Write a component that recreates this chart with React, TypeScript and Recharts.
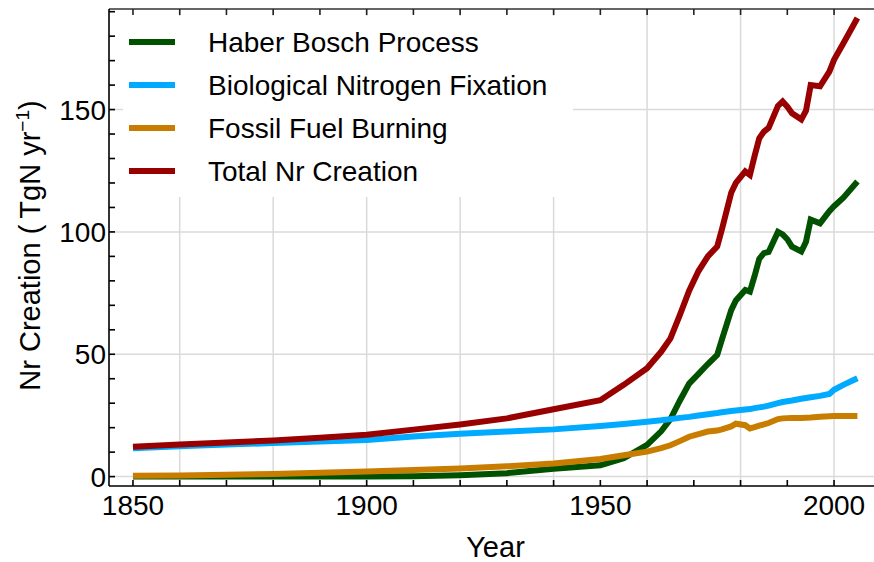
import React from 'react';
import { LineChart, Line, XAxis, YAxis, CartesianGrid, Legend } from 'recharts';

const years = [1850, 1860, 1870, 1880, 1890, 1900, 1910, 1920, 1930, 1940, 1950, 1955, 1960, 1963, 1965, 1967, 1969, 1971, 1973, 1975, 1976, 1978, 1979, 1981, 1982, 1983, 1984, 1985, 1986, 1988, 1989, 1990, 1991, 1993, 1994, 1995, 1997, 1999, 2000, 2002, 2005];
const haber = [0, 0, 0, 0, 0, 0, 0.1, 0.6, 1.4, 3.2, 4.6, 7.5, 13, 18.5, 23.5, 31, 38, 42, 46, 49.7, 56, 68, 72, 76.3, 75.6, 82, 89, 91.3, 91.8, 100, 99, 97, 94, 92, 96, 105, 103.5, 108.5, 110.5, 114, 120.6];
const biological = [11.6, 12.4, 13.1, 13.7, 14.3, 15, 16.4, 17.5, 18.4, 19.3, 20.7, 21.5, 22.4, 23, 23.5, 24, 24.4, 25, 25.5, 26, 26.3, 26.8, 27, 27.4, 27.6, 28, 28.3, 28.6, 29, 30, 30.5, 30.8, 31.1, 31.8, 32.1, 32.4, 33, 33.8, 35.5, 37.5, 40.2];
const fossil = [0.3, 0.5, 0.8, 1.1, 1.6, 2.1, 2.7, 3.3, 4.2, 5.4, 7.2, 8.7, 10.2, 11.6, 12.8, 14.5, 16.3, 17.4, 18.4, 18.8, 19.3, 20.5, 21.6, 21, 19.7, 20.2, 20.8, 21.3, 21.9, 23.5, 23.8, 23.9, 24, 24, 24.1, 24.2, 24.5, 24.7, 24.8, 24.8, 24.8];
const total = [12.2, 13.1, 13.9, 14.8, 15.9, 17.1, 19.2, 21.3, 23.8, 27.5, 31.2, 37.5, 44.3, 51, 56.5, 66, 76, 84, 90, 94, 101, 116, 120, 124.7, 123.3, 131, 138.3, 141, 142.5, 151.5, 153.3, 151.2, 148.5, 146, 149.5, 160, 159.5, 165.5, 170.3, 177.1, 187.4];

const xTicks = [1850, 1860, 1870, 1880, 1890, 1900, 1910, 1920, 1930, 1940, 1950, 1960, 1970, 1980, 1990, 2000];
const xLabelTicks = [1850, 1900, 1950, 2000];
const xGrid = [1860, 1880, 1900, 1920, 1940, 1960, 1980, 2000];
const yTicks = [0, 10, 20, 30, 40, 50, 60, 70, 80, 90, 100, 110, 120, 130, 140, 150, 160, 170, 180, 190];
const yLabelTicks = [0, 50, 100, 150];

const series = [
  { key: 'haber', name: 'Haber Bosch Process', color: '#005200' },
  { key: 'biological', name: 'Biological Nitrogen Fixation', color: '#00aaff' },
  { key: 'fossil', name: 'Fossil Fuel Burning', color: '#c87d00' },
  { key: 'total', name: 'Total Nr Creation', color: '#990000' },
];

const data = years.map((year, i) => ({
  year,
  haber: haber[i],
  biological: biological[i],
  fossil: fossil[i],
  total: total[i],
}));

const FONT = '"Liberation Sans", Arial, sans-serif';
const TL = 6;

const BottomTick = (props: any) => {
  const { x, y, payload } = props;
  const v = payload.value;
  return (
    <g>
      <rect x={x - 0.8} y={y - TL} width={1.6} height={TL} fill="#000" />
      {xLabelTicks.includes(v) && (
        <text x={x} y={y + 29} textAnchor="middle" fontFamily={FONT} fontSize={28} fill="#000">
          {v}
        </text>
      )}
    </g>
  );
};

const TopTick = (props: any) => {
  const { x, y } = props;
  return <rect x={x - 0.8} y={y} width={1.6} height={TL} fill="#222" />;
};

const LeftTick = (props: any) => {
  const { x, y, payload } = props;
  const v = payload.value;
  return (
    <g>
      <rect x={x} y={y - 0.8} width={TL} height={1.6} fill="#000" />
      {yLabelTicks.includes(v) && (
        <text x={x - 3} y={y + 10} textAnchor="end" fontFamily={FONT} fontSize={28} fill="#000">
          {v}
        </text>
      )}
    </g>
  );
};

const YLabel = (props: any) => {
  const vb = props.viewBox || { x: 0, y: 9, width: 109, height: 477 };
  const cx = 40;
  const cy = vb.y + vb.height / 2 - 2;
  return (
    <text
      x={cx}
      y={cy}
      transform={`rotate(-90 ${cx} ${cy})`}
      textAnchor="middle"
      fontFamily={FONT}
      fontSize={29}
      fill="#000"
    >
      <tspan>Nr Creation (</tspan>
      <tspan dx={6}>TgN yr</tspan>
      <tspan fontSize={19} dy={-11}>−1</tspan>
      <tspan dy={11}>)</tspan>
    </text>
  );
};

const XLabel = (props: any) => {
  const vb = props.viewBox || { x: 109, y: 486, width: 765, height: 76 };
  return (
    <text x={vb.x + vb.width / 2 + 4} y={557} textAnchor="middle" fontFamily={FONT} fontSize={29} fill="#000">
      Year
    </text>
  );
};

const LegendBox = () => (
  <div style={{ background: '#fff', width: 450, height: 181 }}>
    <svg width={450} height={181}>
      {series.map((s, i) => {
        const cy = 26 + i * 43;
        return (
          <g key={s.key}>
            <line x1={6} x2={52} y1={cy} y2={cy} stroke={s.color} strokeWidth={6} />
            <text x={85} y={cy + 10} fontFamily={FONT} fontSize={28} fill="#000">
              {s.name}
            </text>
          </g>
        );
      })}
    </svg>
  </div>
);

export default function App() {
  return (
    <div style={{ position: 'absolute', left: 0, top: 0, width: 874, height: 562, overflow: 'hidden', background: '#fff' }}>
      <LineChart width={874} height={562} data={data} margin={{ top: 0, right: 0, bottom: 0, left: 0 }}>
        <CartesianGrid
          xAxisId="bottom"
          horizontalValues={yLabelTicks}
          verticalValues={xGrid}
          stroke="#dadada"
          strokeWidth={1.5}
        />
        <XAxis
          xAxisId="bottom"
          dataKey="year"
          type="number"
          domain={[1844.87, 2008.55]}
          allowDataOverflow
          ticks={xTicks}
          interval={0}
          height={76}
          tickSize={0}
          tickMargin={0}
          tickLine={false}
          axisLine={{ stroke: '#000', strokeWidth: 1.6 }}
          tick={<BottomTick />}
          label={<XLabel />}
        />
        <XAxis
          xAxisId="top"
          orientation="top"
          dataKey="year"
          type="number"
          domain={[1844.87, 2008.55]}
          allowDataOverflow
          ticks={xTicks}
          interval={0}
          height={9}
          tickSize={0}
          tickMargin={0}
          tickLine={false}
          axisLine={{ stroke: '#333', strokeWidth: 1.6 }}
          tick={<TopTick />}
        />
        <YAxis
          type="number"
          domain={[-3.84, 191.1]}
          allowDataOverflow
          ticks={yTicks}
          interval={0}
          width={109}
          tickSize={0}
          tickMargin={0}
          tickLine={false}
          axisLine={{ stroke: '#000', strokeWidth: 1.6 }}
          tick={<LeftTick />}
          label={<YLabel />}
        />
        <Legend
          layout="vertical"
          align="center"
          verticalAlign="middle"
          content={<LegendBox />}
          wrapperStyle={{ position: 'absolute', left: 123, top: 16, width: 450, height: 181, margin: 0, padding: 0 }}
        />
        {series.map((s) => (
          <Line
            key={s.key}
            xAxisId="bottom"
            dataKey={s.key}
            name={s.name}
            stroke={s.color}
            strokeWidth={6}
            dot={false}
            type="linear"
            isAnimationActive={false}
          />
        ))}
      </LineChart>
    </div>
  );
}
